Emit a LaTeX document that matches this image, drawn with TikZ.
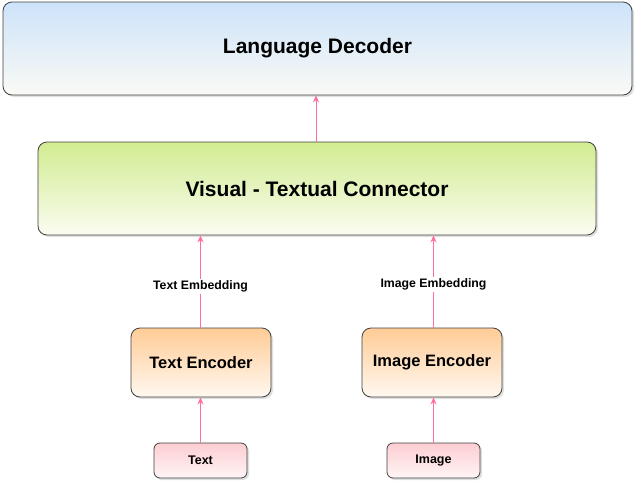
\documentclass[tikz,border=0pt]{standalone}
\usepackage{fontspec}
\setmainfont{Liberation Sans}
\usetikzlibrary{shadows,arrows.meta}
\definecolor{arr}{HTML}{FF6F9C}
\tikzset{
  box/.style={draw=black!75, line width=0.8pt, rounded corners=9pt, drop shadow={shadow xshift=2pt, shadow yshift=-2pt, opacity=0.25}, font=\bfseries},
  conn/.style={draw=arr, line width=1.2pt, -{Stealth[length=7pt,width=6pt]}},
  elabel/.style={fill=white, inner sep=2pt, font=\bfseries\fontsize{12.3}{14}\selectfont, text=black},
}
\begin{document}
\begin{tikzpicture}[x=1pt,y=-1pt]
\useasboundingbox (0,0) rectangle (640,490);
\node[box, top color={rgb,255:red,205;green,227;blue,250}, bottom color={rgb,255:red,250;green,250;blue,245}, minimum width=629, minimum height=93, font=\bfseries\fontsize{21}{24}\selectfont] (dec) at (317.5,48.5) {Language Decoder};
\node[box, top color={rgb,255:red,210;green,236;blue,145}, bottom color={rgb,255:red,250;green,252;blue,240}, minimum width=558, minimum height=93, font=\bfseries\fontsize{21}{24}\selectfont] (vtc) at (317,188.5) {Visual - Textual Connector};
\node[box, top color={rgb,255:red,255;green,204;blue,150}, bottom color={rgb,255:red,255;green,248;blue,240}, minimum width=140, minimum height=69, font=\bfseries\fontsize{16.5}{19}\selectfont] (te) at (201,362.5) {Text Encoder};
\node[box, top color={rgb,255:red,255;green,204;blue,150}, bottom color={rgb,255:red,255;green,248;blue,240}, minimum width=140, minimum height=69, font=\bfseries\fontsize{16.5}{19}\selectfont] (ie) at (432,362.5) {Image Encoder};
\node[box, rounded corners=6pt, top color={rgb,255:red,252;green,205;blue,210}, bottom color={rgb,255:red,255;green,245;blue,245}, minimum width=93, minimum height=35, font=\bfseries\fontsize{12.5}{15}\selectfont] (t) at (200.5,460.5) {Text};
\node[box, rounded corners=6pt, top color={rgb,255:red,252;green,205;blue,210}, bottom color={rgb,255:red,255;green,245;blue,245}, minimum width=93, minimum height=35, font=\bfseries\fontsize{12.5}{15}\selectfont] (i) at (433.5,460.5) {Image};
\draw[conn, line width=0.8pt] (vtc.north) ++(-1,0) coordinate (a1) -- (a1 |- dec.south);
\draw[conn] (t.north) -- (t.north |- te.south);
\draw[conn] (i.north) -- (i.north |- ie.south);
\draw[conn] (te.north -| t.north) -- (t.north |- vtc.south) node[pos=0.5, elabel, yshift=-5pt] {Text Embedding};
\draw[conn] (ie.north -| i.north) -- (i.north |- vtc.south) node[pos=0.5, elabel, yshift=-3pt] {Image Embedding};
\end{tikzpicture}
\end{document}
